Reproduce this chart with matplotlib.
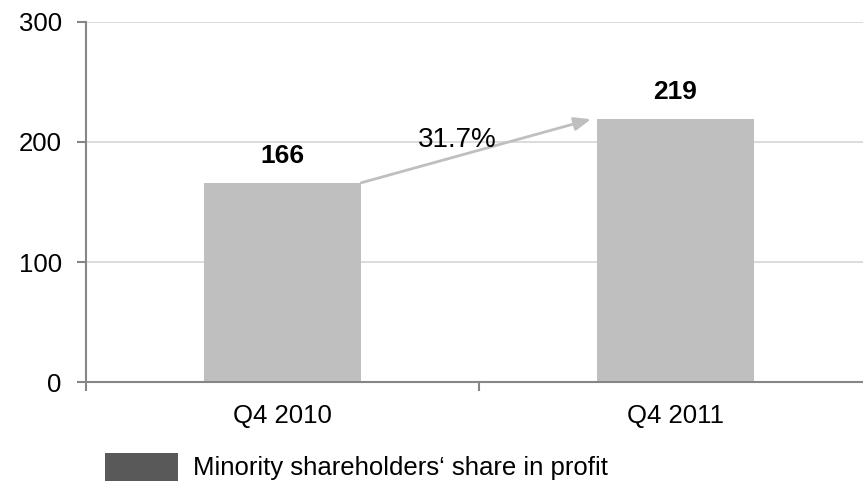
import matplotlib
matplotlib.use("Agg")
import matplotlib.pyplot as plt
from matplotlib.patches import Patch

categories = ["Q4 2010", "Q4 2011"]
values = [166, 219]
growth_label = "31.7%"
legend_label = "Minority shareholders\u2018 share in profit"
yticks = [0, 100, 200, 300]

plt.rcParams['font.family'] = ['Liberation Sans', 'DejaVu Sans']

fig = plt.figure(figsize=(8.63, 4.82), dpi=100)
ax = fig.add_axes([86/863, 1-382/482, 786/863, 360/482])

x = list(range(len(categories)))
bw = 0.4
ax.bar(x, values, width=bw, color='#bfbfbf', zorder=2)

ax.set_xlim(-0.5, len(categories) - 0.5)
ax.set_ylim(0, 300)
ax.set_yticks(yticks)
ax.set_yticklabels([str(t) for t in yticks], fontsize=18.5)
ax.yaxis.grid(True, color='#d9d9d9', linewidth=1.3, zorder=0)
ax.set_axisbelow(True)

ax.set_xticks(x)
ax.set_xticklabels(categories, fontsize=18.5)
ax.tick_params(axis='x', which='major', length=0, pad=16)
ax.set_xticks([i - 0.5 for i in range(len(categories) + 1)], minor=True)
ax.tick_params(axis='x', which='minor', length=6.5, width=1.5, color='#868686', direction='out')
ax.tick_params(axis='y', length=6.5, width=1.5, color='#868686', pad=11)

for s in ['top', 'right']:
    ax.spines[s].set_visible(False)
for s in ['left', 'bottom']:
    ax.spines[s].set_color('#868686')
    ax.spines[s].set_linewidth(1.5)

for xi, v in zip(x, values):
    ax.annotate(str(v), (xi, v), xytext=(0, 11), textcoords='offset points',
                ha='center', va='bottom', fontsize=19, fontweight='bold')

ax.annotate('', xy=(1 - bw/2 - 0.015, values[1]), xytext=(bw/2, values[0]),
            arrowprops=dict(arrowstyle='-|>,head_length=1.0,head_width=0.4',
                            color='#bfbfbf', lw=2, shrinkA=0, shrinkB=0))
ax.text(0.445, 202, growth_label, ha='center', va='center', fontsize=20)

handle = Patch(facecolor='#595959', edgecolor='none')
fig.legend([handle], [legend_label], loc='lower left',
           bbox_to_anchor=(82/863, -22/482), frameon=False, fontsize=18.5,
           handlelength=2.84, handleheight=1.3, handletextpad=0.58)

fig.savefig('out.png', dpi=100)
